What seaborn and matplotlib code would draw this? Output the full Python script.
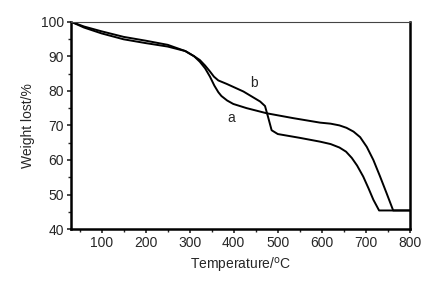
import pandas as pd
import matplotlib.pyplot as plt
import seaborn as sns
from matplotlib.ticker import MultipleLocator

# TGA curves
temp_a = [30, 60, 100, 150, 200, 250, 290, 310, 323, 335, 346, 356, 365, 372, 385, 399,
          429, 475, 535, 596, 620, 640, 656, 672, 687, 702, 717, 732, 747, 762, 800]
weight_a = [100, 98.3, 96.6, 94.9, 93.8, 92.8, 91.5, 90.0, 88.4, 86.5, 84.1, 81.5, 79.6, 78.5, 77.2, 76.2,
            75.0, 73.5, 72.1, 70.8, 70.5, 70.0, 69.3, 68.2, 66.6, 63.8, 60.0, 55.3, 50.4, 45.4, 45.4]

temp_b = [30, 60, 100, 150, 200, 250, 290, 310, 323, 335, 346, 355, 365, 384, 422, 460,
          471, 478, 486, 500, 550, 596, 620, 640, 655, 668, 680, 694, 706, 717, 730, 800]
weight_b = [100, 98.6, 97.2, 95.6, 94.5, 93.3, 91.5, 90.0, 88.9, 87.3, 85.6, 84.1, 83.0, 82.0, 79.8, 76.9,
            75.6, 72.4, 68.6, 67.5, 66.4, 65.3, 64.6, 63.6, 62.4, 60.6, 58.4, 55.2, 51.8, 48.5, 45.4, 45.4]

curve_labels = ["a", "b"]
label_pos = [(395, 72.0), (445, 82.2)]

df = pd.concat([
    pd.DataFrame({"Temperature": temp_a, "Weight": weight_a, "sample": "a"}),
    pd.DataFrame({"Temperature": temp_b, "Weight": weight_b, "sample": "b"}),
])

sns.set_style("ticks")
plt.rcParams["font.family"] = ["Liberation Sans", "DejaVu Sans"]

fig = plt.figure(figsize=(4.48, 2.85), dpi=100)
ax = fig.add_axes([0.158, 0.196, 0.757, 0.728])

sns.lineplot(data=df, x="Temperature", y="Weight", units="sample", estimator=None,
             sort=False, color="black", linewidth=1.4, ax=ax)

for lab, (x, y) in zip(curve_labels, label_pos):
    ax.text(x, y, lab, fontsize=10, ha="center", va="center")

ax.set_xlim(30, 800)
ax.set_ylim(40, 100)
ax.xaxis.set_major_locator(MultipleLocator(100))
ax.xaxis.set_minor_locator(MultipleLocator(50))
ax.yaxis.set_major_locator(MultipleLocator(10))
ax.yaxis.set_minor_locator(MultipleLocator(5))
ax.set_xticks(range(100, 801, 100))

ax.set_xlabel("Temperature/$^{\\rm o}$C", fontsize=10)
ax.set_ylabel("Weight lost/%", fontsize=10)
ax.tick_params(axis="both", which="major", labelsize=10, direction="out",
               length=3, width=1.2, pad=2)
ax.tick_params(axis="both", which="minor", direction="out", length=2, width=1)

for side in ["left", "bottom", "right"]:
    ax.spines[side].set_linewidth(1.8)
    ax.spines[side].set_color("black")
ax.spines["top"].set_linewidth(0.8)
ax.spines["top"].set_color("#444444")

fig.savefig("out.png", dpi=100)
